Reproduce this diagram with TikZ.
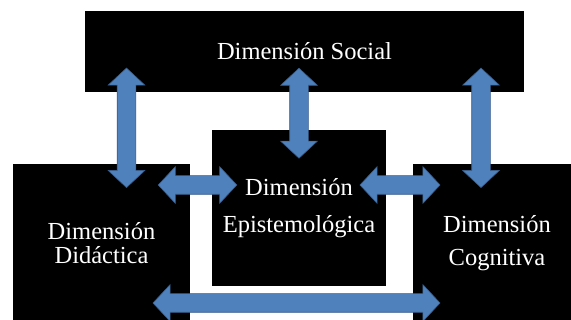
\documentclass[tikz,border=0pt]{standalone}
\usepackage{fontspec}
\setmainfont{Liberation Serif}
\usetikzlibrary{shapes.arrows, positioning}
\definecolor{arrowblue}{RGB}{79,129,189}
\definecolor{arrowedge}{RGB}{56,93,138}

\begin{document}
\begin{tikzpicture}[
			x=1pt, y=-1pt,
			dimbox/.style={rectangle, fill=black, inner sep=0pt, text=white, align=center, font=\fontsize{24.5}{25}\selectfont},
			dblarrow/.style={double arrow, fill=arrowblue, draw=arrowedge, line width=.6pt, inner xsep=0pt, inner ysep=9pt, minimum width=36pt, double arrow head extend=9pt, double arrow tip angle=94},
			]
			\clip (0,0) rectangle (571,320);
			\fill[white] (0,0) rectangle (571,320);

			% Nodes
			\node (social) [dimbox, minimum width=439pt, minimum height=81pt] at (304.5,51.5) {Dimensión Social};
			\node (epist) [dimbox, minimum width=174pt, minimum height=156pt, font=\fontsize{24.5}{37}\selectfont] at (299,208) {Dimensión\\Epistemológica};
			\node (didac) [dimbox, minimum width=177pt, minimum height=158pt, font=\fontsize{24.5}{23.5}\selectfont] at (101.5,243) {Dimensión\\Didáctica};
			\node (cogn) [dimbox, minimum width=168pt, minimum height=158pt, font=\fontsize{24.5}{32.5}\selectfont] at (497,243) {Dimensión\\Cognitiva};

			% Arrows
			\node (socdid) [dblarrow, rotate=90, minimum height=119.5pt] at (126.5,127.8) {};
			\node (socepi) [dblarrow, rotate=90, minimum height=90pt] at (299,113.2) {};
			\node (soccog) [dblarrow, rotate=90, minimum height=119.5pt] at (481,127.8) {};
			\node (didepi) [dblarrow, minimum height=78.5pt] at (197.5,185) {};
			\node (epicog) [dblarrow, minimum height=80pt] at (400,185) {};
			\node (didcog) [dblarrow, minimum height=287pt] at (296.5,303) {};
		\end{tikzpicture}
\end{document}
